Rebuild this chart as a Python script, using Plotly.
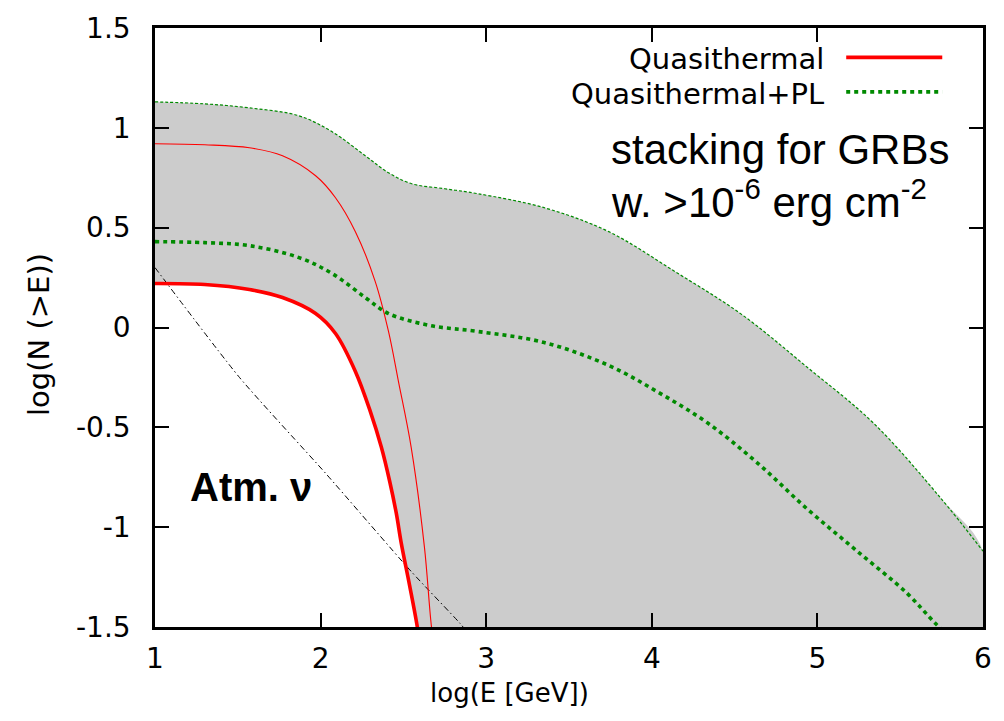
import plotly.graph_objects as go

# ---------------- data (log10 E [GeV] vs log10 N(>E)) ----------------
upper_x = [1.0, 1.3, 1.57, 1.87, 2.07, 2.27, 2.41, 2.55, 2.75, 2.95, 3.35, 3.74, 4.14, 4.54, 4.94, 5.34, 5.74, 6.0]
upper_y = [1.13, 1.12, 1.10, 1.06, 0.98, 0.86, 0.775, 0.72, 0.695, 0.67, 0.60, 0.48, 0.28, 0.067, -0.20, -0.48, -0.85, -1.12]

qtpl_x = [1.0, 1.3, 1.57, 1.87, 2.07, 2.27, 2.41, 2.66, 2.95, 3.35, 3.74, 4.04, 4.34, 4.64, 4.94, 5.24, 5.54, 5.71, 5.8]
qtpl_y = [0.43, 0.425, 0.41, 0.35, 0.27, 0.15, 0.07, 0.01, -0.02, -0.075, -0.19, -0.325, -0.48, -0.68, -0.91, -1.12, -1.33, -1.48, -1.55]

qt_x = [1.0, 1.3, 1.57, 1.77, 1.97, 2.09, 2.21, 2.30, 2.367, 2.417, 2.457, 2.487, 2.537, 2.58, 2.62]
qt_y = [0.22, 0.215, 0.19, 0.15, 0.07, -0.03, -0.22, -0.42, -0.60, -0.77, -0.93, -1.08, -1.29, -1.48, -1.70]

qt_hi_x = [1.0, 1.3, 1.57, 1.77, 1.97, 2.09, 2.21, 2.33, 2.41, 2.47, 2.547, 2.627, 2.667, 2.70]
qt_hi_y = [0.92, 0.915, 0.90, 0.86, 0.76, 0.65, 0.48, 0.23, -0.02, -0.27, -0.60, -1.10, -1.48, -1.70]

atm_x = [1.0, 1.51, 2.03, 2.545, 2.84, 2.9]
atm_y = [0.30, -0.25, -0.73, -1.22, -1.48, -1.54]

x_range = [1, 6]
y_range = [-1.5, 1.5]
x_tick_vals = [1, 2, 3, 4, 5, 6]
x_tick_labels = ["1", "2", "3", "4", "5", "6"]
y_tick_vals = [-1.5, -1, -0.5, 0, 0.5, 1, 1.5]
y_tick_labels = ["-1.5", "-1", "-0.5", "0", "0.5", "1", "1.5"]

legend_names = ["Quasithermal", "Quasithermal+PL"]

# ---------------- figure ----------------
RED = "#ff0000"
GREEN = "#008a00"
GRAY = "#cccccc"
TICKFONT = dict(family="DejaVu Sans", size=28, color="black")
SM = 1.0

y_floor = y_range[0] - 0.3
band_x = upper_x + [upper_x[-1]] + qt_x[::-1]
band_y = upper_y + [y_floor] + qt_y[::-1]

fig = go.Figure()
fig.add_trace(go.Scatter(x=band_x, y=band_y, mode="lines", fill="toself",
                         fillcolor=GRAY, line=dict(width=0, color=GRAY, shape="spline", smoothing=SM),
                         hoverinfo="skip", showlegend=False))
fig.add_trace(go.Scatter(x=upper_x, y=upper_y, mode="lines",
                         line=dict(color=GREEN, width=1.2, dash="3px,2px", shape="spline", smoothing=SM),
                         showlegend=False))
fig.add_trace(go.Scatter(x=atm_x, y=atm_y, mode="lines",
                         line=dict(color="black", width=1, dash="6px,3px,1.5px,3px", shape="spline", smoothing=0.6),
                         showlegend=False))
fig.add_trace(go.Scatter(x=qt_hi_x, y=qt_hi_y, mode="lines",
                         line=dict(color=RED, width=1.1, shape="spline", smoothing=SM),
                         showlegend=False))
fig.add_trace(go.Scatter(x=qtpl_x, y=qtpl_y, mode="lines", name=legend_names[1],
                         line=dict(color=GREEN, width=3.6, dash="4px,4px", shape="spline", smoothing=SM),
                         showlegend=False))
fig.add_trace(go.Scatter(x=qt_x, y=qt_y, mode="lines", name=legend_names[0],
                         line=dict(color=RED, width=3.6, shape="spline", smoothing=SM),
                         showlegend=False))

# manual legend (text left, sample right, as in the original)
leg_y = [1.343, 1.17]
leg_text_x = 5.054
leg_line_x = [5.174, 5.754]
for name, yy in zip(legend_names, leg_y):
    fig.add_annotation(x=leg_text_x, y=yy, xref="x", yref="y", text=name, showarrow=False,
                       xanchor="right", yanchor="middle",
                       font=dict(family="DejaVu Sans", size=29, color="black"))
fig.add_shape(type="line", x0=leg_line_x[0], x1=leg_line_x[1], y0=leg_y[0] + 0.01, y1=leg_y[0] + 0.01,
              xref="x", yref="y", line=dict(color=RED, width=3.6))
fig.add_shape(type="line", x0=leg_line_x[0], x1=leg_line_x[1], y0=leg_y[1] + 0.01, y1=leg_y[1] + 0.01,
              xref="x", yref="y", line=dict(color=GREEN, width=3.6, dash="4px,4px"))

# texts
fig.add_annotation(x=3.74, y=0.893, xref="x", yref="y", text="stacking for GRBs", showarrow=False,
                   xanchor="left", yanchor="middle",
                   font=dict(family="Liberation Sans", size=42, color="black"))
fig.add_annotation(x=3.74, y=0.643, xref="x", yref="y", text="w. >10<sup>-6</sup> erg cm<sup>-2</sup>",
                   showarrow=False, xanchor="left", yanchor="middle",
                   font=dict(family="Liberation Sans", size=42, color="black"))
fig.add_annotation(x=1.2, y=-0.80, xref="x", yref="y", text="<b>Atm. ν</b>", showarrow=False,
                   xanchor="left", yanchor="middle",
                   font=dict(family="Liberation Sans", size=40, color="black"))

# axis titles
fig.add_annotation(x=3.138, y=-0.11, xref="x", yref="paper", text="log(E [GeV])", showarrow=False,
                   xanchor="center", yanchor="middle",
                   font=dict(family="DejaVu Sans", size=26, color="black"))
fig.add_annotation(x=-0.141, y=0.488, xref="paper", yref="paper", text="log(N (>E))", showarrow=False,
                   xanchor="center", yanchor="middle", textangle=-90,
                   font=dict(family="DejaVu Sans", size=29, color="black"))

axis_common = dict(showline=True, linewidth=2.5, linecolor="black", mirror="ticks",
                   ticks="inside", ticklen=14, tickwidth=2, tickcolor="black",
                   showgrid=False, zeroline=False, tickfont=TICKFONT)
fig.update_xaxes(range=x_range, tickvals=x_tick_vals, ticktext=x_tick_labels,
                 ticklabelstandoff=5, **axis_common)
fig.update_yaxes(range=y_range, tickvals=y_tick_vals, ticktext=y_tick_labels,
                 ticklabelstandoff=16, **axis_common)

fig.update_layout(width=1004, height=721, autosize=False,
                  margin=dict(l=155, r=14, t=27, b=94),
                  paper_bgcolor="white", plot_bgcolor="white",
                  showlegend=False)

fig.write_html("out.html", config={"displayModeBar": False},
               post_script="document.body.style.margin='0px';document.body.style.overflow='hidden';")
